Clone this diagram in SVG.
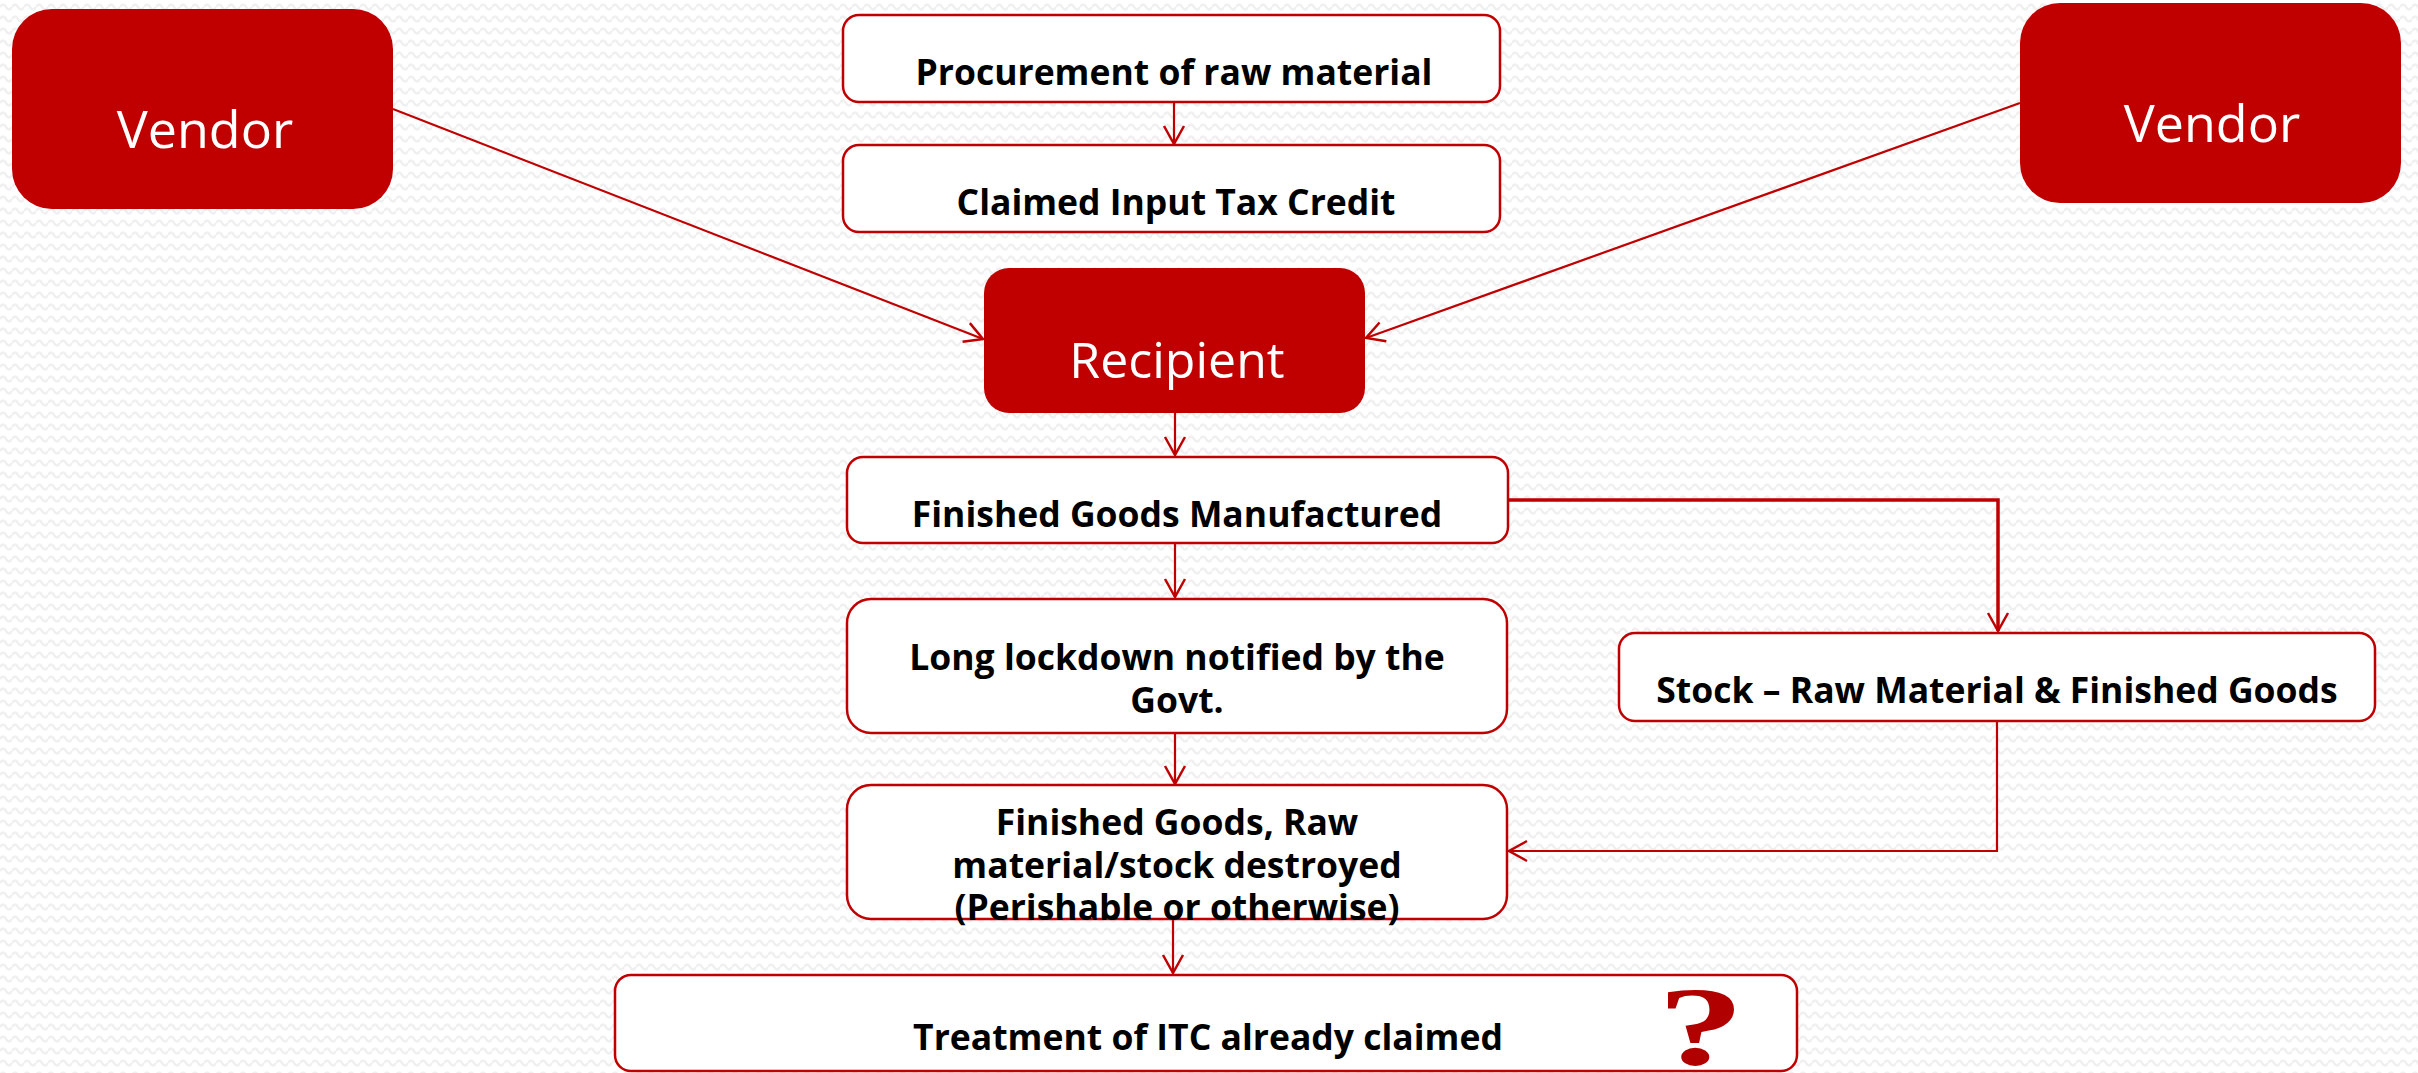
<svg xmlns="http://www.w3.org/2000/svg" width="2418" height="1073" viewBox="0 0 2418 1073">
  <style>
    .solid { fill: #c00000; }
    .solid-label { fill: #ffffff; font-family: "Open Sans", "Noto Sans", "Liberation Sans", sans-serif; font-weight: 400; text-anchor: middle; }
    .step { fill: #ffffff; stroke: #c00000; stroke-width: 2.5; }
    .step-label { fill: #000000; font-family: "Open Sans", "Noto Sans", "Liberation Sans", sans-serif; font-weight: 700; font-size: 35.5px; text-anchor: middle; }
    .link { fill: none; stroke: #c00000; stroke-width: 2.2; }
    .link-heavy { fill: none; stroke: #c00000; stroke-width: 3.5; }
  </style>
  <defs>
    <pattern id="waves" width="12" height="12" patternUnits="userSpaceOnUse">
      <path d="M0,7 Q3,2 6,7 T12,7" fill="none" stroke="#f0f0f0" stroke-width="2.5"/>
    </pattern>
    <marker id="open-arrow" markerUnits="userSpaceOnUse" markerWidth="24" markerHeight="26" viewBox="-20 -12 24 24" refX="0" refY="0" orient="auto">
      <path d="M-18,-10 L0,0 L-18,10" fill="none" stroke="#c00000" stroke-width="2.5"/>
    </marker>
  </defs>

  <!-- background -->
  <rect width="2418" height="1073" fill="#ffffff"/>
  <rect width="2418" height="1073" fill="url(#waves)"/>

  <!-- connectors -->
  <g id="connectors">
    <line class="link" x1="1174" y1="102" x2="1174" y2="144" marker-end="url(#open-arrow)"/>
    <line class="link" x1="393" y1="109" x2="983" y2="339" marker-end="url(#open-arrow)"/>
    <line class="link" x1="2020" y1="103" x2="1366" y2="338" marker-end="url(#open-arrow)"/>
    <line class="link" x1="1175" y1="413" x2="1175" y2="455" marker-end="url(#open-arrow)"/>
    <line class="link" x1="1175" y1="543" x2="1175" y2="597" marker-end="url(#open-arrow)"/>
    <line class="link" x1="1175" y1="733" x2="1175" y2="784" marker-end="url(#open-arrow)"/>
    <line class="link" x1="1173" y1="919" x2="1173" y2="973" marker-end="url(#open-arrow)"/>
    <path class="link-heavy" d="M1508,500 H1998 V631" marker-end="url(#open-arrow)"/>
    <path class="link" d="M1997,721 V851 H1509" marker-end="url(#open-arrow)"/>
  </g>

  <!-- vendor (left) -->
  <g id="vendor-left">
    <rect class="solid" x="12" y="9" width="381" height="200" rx="40"/>
    <text class="solid-label" x="205" y="148" font-size="52">Vendor</text>
  </g>

  <!-- vendor (right) -->
  <g id="vendor-right">
    <rect class="solid" x="2020" y="3" width="381" height="200" rx="40"/>
    <text class="solid-label" x="2212" y="142" font-size="52">Vendor</text>
  </g>

  <!-- procurement -->
  <g id="procurement">
    <rect class="step" x="843" y="15" width="657" height="87" rx="16"/>
    <text class="step-label" x="1174" y="85">Procurement of raw material</text>
  </g>

  <!-- input tax credit -->
  <g id="itc-claimed">
    <rect class="step" x="843" y="145" width="657" height="87" rx="16"/>
    <text class="step-label" x="1176" y="215">Claimed Input Tax Credit</text>
  </g>

  <!-- recipient -->
  <g id="recipient">
    <rect class="solid" x="984" y="268" width="381" height="145" rx="25"/>
    <text class="solid-label" x="1177" y="378" font-size="50">Recipient</text>
  </g>

  <!-- finished goods -->
  <g id="finished-goods">
    <rect class="step" x="847" y="457" width="661" height="86" rx="16"/>
    <text class="step-label" x="1177" y="527">Finished Goods Manufactured</text>
  </g>

  <!-- lockdown -->
  <g id="lockdown">
    <rect class="step" x="847" y="599" width="660" height="134" rx="24"/>
    <text class="step-label" x="1177" y="670">Long lockdown notified by the</text>
    <text class="step-label" x="1177" y="713">Govt.</text>
  </g>

  <!-- stock -->
  <g id="stock">
    <rect class="step" x="1619" y="633" width="756" height="88" rx="16"/>
    <text class="step-label" x="1997" y="703">Stock – Raw Material &amp; Finished Goods</text>
  </g>

  <!-- destroyed -->
  <g id="destroyed">
    <rect class="step" x="847" y="785" width="660" height="134" rx="24"/>
    <text class="step-label" x="1177" y="835">Finished Goods, Raw</text>
    <text class="step-label" x="1177" y="878">material/stock destroyed</text>
    <text class="step-label" x="1177" y="920">(Perishable or otherwise)</text>
  </g>

  <!-- treatment -->
  <g id="treatment">
    <rect class="step" x="615" y="975" width="1182" height="96" rx="16"/>
    <text class="step-label" x="1208" y="1050">Treatment of ITC already claimed</text>
    <text x="1701" y="1064" font-family="'Liberation Serif', 'DejaVu Serif', serif" font-weight="700" font-size="112" fill="#b00000" text-anchor="middle" transform="translate(1701 0) scale(1.55 1) translate(-1701 0)">?</text>
  </g>
</svg>
